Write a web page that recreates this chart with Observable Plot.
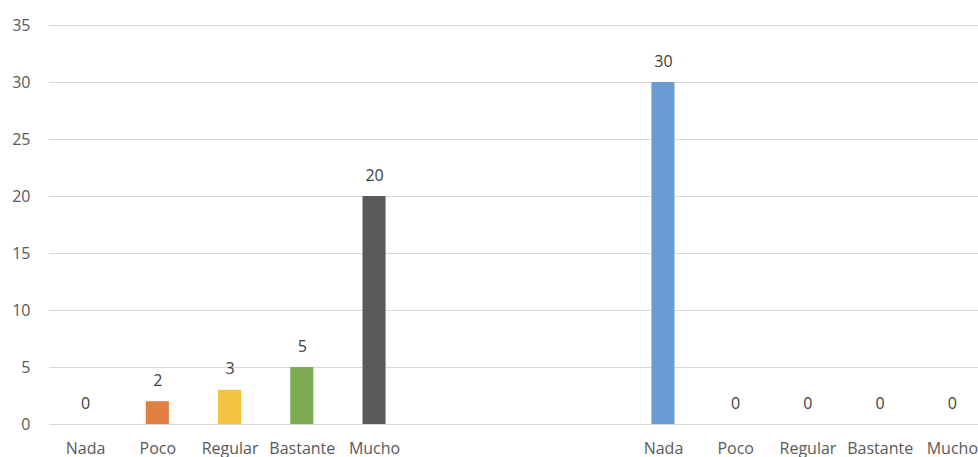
<!DOCTYPE html>
<html>
<head>
<meta charset="utf-8">
<script src="https://cdn.jsdelivr.net/npm/d3@7"></script>
<script src="https://cdn.jsdelivr.net/npm/@observablehq/plot@0.6"></script>
<style>
  html, body { margin: 0; padding: 0; background: #fff; overflow: hidden; width: 978px; height: 457px; }
  #chart { width: 978px; height: 457px; overflow: hidden; position: relative; }
  #chart svg { display: block; position: absolute; left: 0; top: 0; max-width: none !important; }
</style>
</head>
<body>
<div id="chart"></div>
<script>
const categories = ["Nada", "Poco", "Regular", "Bastante", "Mucho"];
const group1Values = [0, 2, 3, 5, 20];
const group2Values = [30, 0, 0, 0, 0];
const categoryColors = ["#6a9bd2", "#e07f3f", "#f5c342", "#7eab53", "#595959"];
const yTicks = [0, 5, 10, 15, 20, 25, 30, 35];
const gapSlots = ["gap1", "gap2", "gap3"];

const data = [
  ...categories.map((c, i) => ({key: "A|" + c, cat: c, value: group1Values[i]})),
  ...categories.map((c, i) => ({key: "B|" + c, cat: c, value: group2Values[i]}))
];
const g1Keys = categories.map(c => "A|" + c);
const g2Keys = categories.map(c => "B|" + c);
const xDomain = [...g1Keys, ...gapSlots, ...g2Keys];

const font = "'Open Sans', 'Noto Sans', sans-serif";

const chart = Plot.plot({
  width: 988,
  height: 457,
  marginLeft: 49,
  marginRight: 0,
  marginTop: 25,
  marginBottom: 33,
  style: {fontFamily: font, fontSize: "16px", color: "#595959", background: "#fff", maxWidth: "none", overflow: "hidden"},
  x: {domain: xDomain, paddingInner: 0.681, paddingOuter: 0.3405, align: 0.5, round: false, label: null, axis: null},
  y: {domain: [0, 35], label: null, axis: null},
  color: {domain: categories, range: categoryColors},
  marks: [
    Plot.ruleY(yTicks, {stroke: "#d9d9d9", strokeWidth: 1}),
    Plot.axisY({ticks: yTicks, tickSize: 0, tickPadding: 19, label: null, fill: "#595959", fontSize: 16}),
    Plot.axisX({ticks: [...g1Keys, ...g2Keys], tickSize: 0, tickPadding: 18, label: null,
      tickFormat: d => d.split("|")[1], fill: "#595959", fontSize: 16}),
    Plot.barY(data, {x: "key", y: "value", fill: "cat"}),
    Plot.text(data, {x: "key", y: "value", text: d => String(d.value), dy: -21, fill: "#404040", fontSize: 16})
  ]
});
document.getElementById("chart").appendChild(chart);
</script>
</body>
</html>
